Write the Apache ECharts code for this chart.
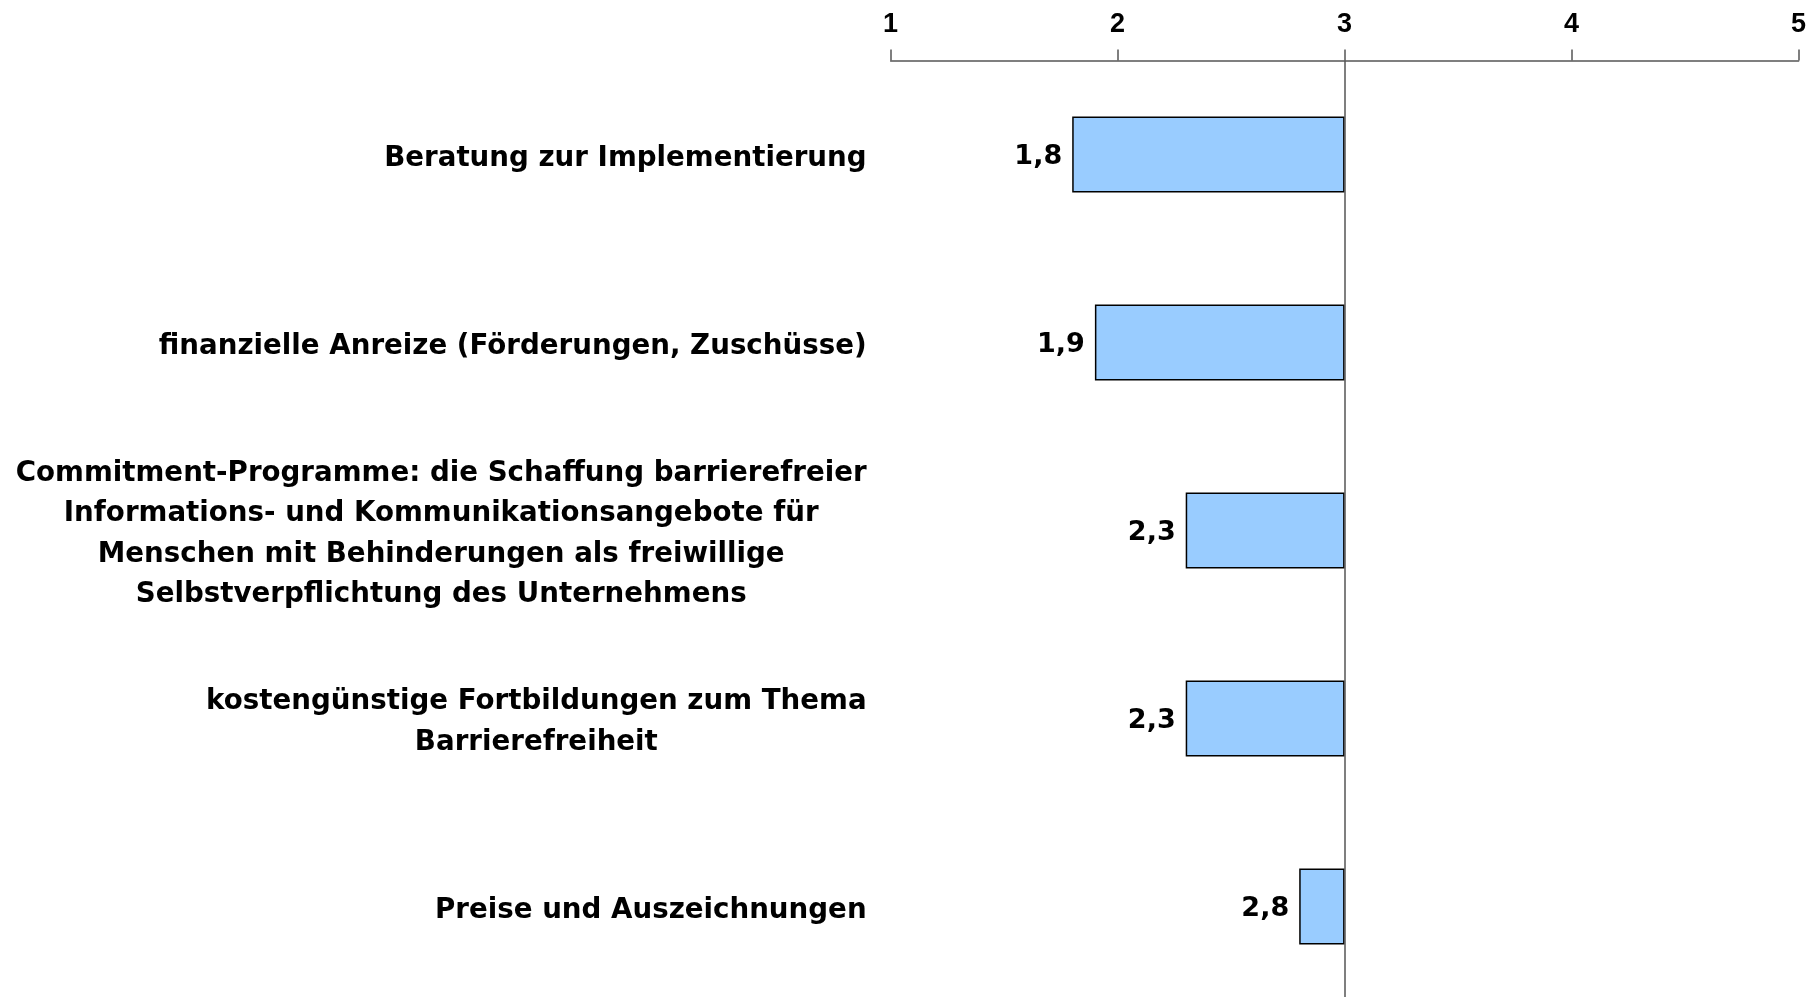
<!DOCTYPE html>
<html>
<head>
<meta charset="utf-8">
<style>
  html, body { margin: 0; padding: 0; background: #fff; }
  #chart { width: 1816px; height: 997px; }
</style>
<script src="https://cdn.jsdelivr.net/npm/echarts@6/dist/echarts.min.js"></script>
</head>
<body>
<div id="chart"></div>
<script>
// Kategorien (von oben nach unten) und Mittelwerte
const categories = [
  'Beratung zur Implementierung',
  'finanzielle Anreize (Förderungen, Zuschüsse)',
  'Commitment-Programme: die Schaffung barrierefreier\nInformations- und Kommunikationsangebote für\nMenschen mit Behinderungen als freiwillige\nSelbstverpflichtung des Unternehmens',
  'kostengünstige Fortbildungen zum Thema\nBarrierefreiheit',
  'Preise und Auszeichnungen'
];
const values = [1.8, 1.9, 2.3, 2.3, 2.8];
const midpoint = 3;
const tickLabels = ['1', '2', '3', '4', '5'];

const chart = echarts.init(document.getElementById('chart'));

// Balken verlaufen vom Mittelpunkt 3 nach links bis zum Wert
const baseData = values.map(v => v);
const barData = values.map(v => +(midpoint - v).toFixed(2));

const labelFont = '"DejaVu Sans", Verdana, sans-serif';

const option = {
  animation: false,
  grid: {
    left: 890.6, top: 60.5, width: 908, height: 940,
    containLabel: false, outerBoundsMode: 'none'
  },
  xAxis: {
    type: 'value',
    position: 'top',
    min: 1,
    max: 5,
    interval: 1,
    axisLine: { show: true, lineStyle: { color: '#555', width: 1.5 } },
    axisTick: { show: true, inside: false, length: 11, lineStyle: { color: '#555', width: 1.5 } },
    splitLine: { show: false },
    axisLabel: {
      margin: 22,
      color: '#000',
      fontFamily: '"Liberation Sans Narrow", "Liberation Sans", sans-serif',
      fontWeight: 'bold',
      fontSize: 27,
      formatter: v => tickLabels[v - 1]
    }
  },
  yAxis: {
    type: 'category',
    inverse: true,
    data: categories,
    axisLine: { show: false },
    axisTick: { show: false },
    axisLabel: {
      margin: 24,
      align: 'right',
      color: '#000',
      fontFamily: labelFont,
      fontWeight: 'bold',
      fontSize: 27.7,
      lineHeight: 40.5,
      formatter: function (val) {
        return val.split('\n').map(l => '{c|' + l + '}').join('\n');
      },
      rich: {
        c: {
          align: 'center',
          color: '#000',
          fontFamily: labelFont,
          fontWeight: 'bold',
          fontSize: 27.7,
          lineHeight: 40.5,
          padding: [8, 0, 0, 0]
        }
      }
    }
  },
  series: [
    {
      type: 'bar',
      stack: 'a',
      data: baseData,
      barWidth: 76,
      itemStyle: { color: 'transparent' },
      silent: true
    },
    {
      type: 'bar',
      stack: 'a',
      data: barData,
      barWidth: 76,
      itemStyle: { color: '#99CCFF', borderColor: '#000', borderWidth: 1.5 },
      label: {
        show: true,
        position: 'left',
        distance: 10,
        offset: [0, 2],
        color: '#000',
        fontFamily: labelFont,
        fontWeight: 'bold',
        fontSize: 27,
        formatter: p => values[p.dataIndex].toFixed(1).replace('.', ',')
      },
      markLine: {
        silent: true,
        symbol: 'none',
        label: { show: false },
        lineStyle: { color: '#555', width: 1.5, type: 'solid' },
        data: [{ xAxis: midpoint }]
      },
      z: 3
    }
  ]
};

chart.setOption(option);
</script>
</body>
</html>
